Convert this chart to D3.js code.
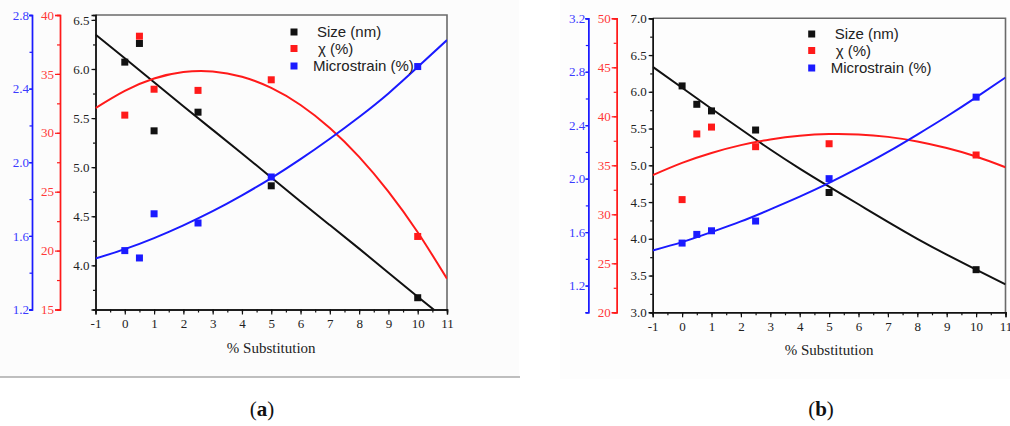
<!DOCTYPE html>
<html>
    <head>
        <meta charset="utf-8">
        <script type="text/javascript" src="https://d3js.org/d3.v7.min.js"></script>
        <style>
            body { margin: 0; background: #ffffff; }
            svg { display: block; }
        </style>
    </head>

    <body>
        <svg width="1010" height="426"></svg>

        <script type="text/javascript">
            // ---- data ----
            var substitution = [0, 0.5, 1, 2.5, 5, 10];
            var xTicks = [-1, 0, 1, 2, 3, 4, 5, 6, 7, 8, 9, 10, 11];
            var fitX = [-1, 0, 1, 2, 3, 4, 5, 6, 7, 8, 9, 10, 11];
            var legendLabels = ["Size (nm)", "\u03c7 (%)", "Microstrain (%)"];
            var panelLabels = ["a", "b"];

            // panel (a)
            var sizeA = [6.07, 6.26, 5.37, 5.56, 4.81, 3.67];
            var chiA = [31.5, 38.2, 33.7, 33.6, 34.5, 21.2];
            var strainA = [1.52, 1.48, 1.72, 1.67, 1.92, 2.52];
            var sizeFitA = [6.35, 6.11, 5.865, 5.62, 5.38, 5.14, 4.895, 4.65, 4.41, 4.17, 3.925, 3.68, 3.44];
            var chiFitA = [32.1, 33.56, 34.61, 35.16, 35.21, 34.76, 33.81, 32.36, 30.41, 27.96, 25.01, 21.56, 17.61];
            var strainFitA = [1.477, 1.528, 1.588, 1.657, 1.734, 1.82, 1.914, 2.017, 2.128, 2.246, 2.374, 2.517, 2.664];
            var sizeTicksA = [4.0, 4.5, 5.0, 5.5, 6.0, 6.5];
            var chiTicksA = [15, 20, 25, 30, 35, 40];
            var strainTicksA = [1.2, 1.6, 2.0, 2.4, 2.8];

            // panel (b)
            var sizeB = [6.08, 5.83, 5.74, 5.48, 4.63, 3.58];
            var chiB = [31.5, 38.2, 38.9, 36.9, 37.2, 36.05];
            var strainB = [1.518, 1.583, 1.61, 1.683, 2.0, 2.61];
            var sizeFitB = [6.34, 6.055, 5.77, 5.49, 5.215, 4.955, 4.71, 4.47, 4.23, 4.0, 3.785, 3.58, 3.38];
            var chiFitB = [34.0, 35.25, 36.26, 37.06, 37.64, 38.02, 38.19, 38.15, 37.9, 37.43, 36.76, 35.9, 34.8];
            var strainFitB = [1.463, 1.525, 1.6, 1.68, 1.77, 1.865, 1.968, 2.08, 2.2, 2.33, 2.465, 2.608, 2.757];
            var sizeTicksB = [3.0, 3.5, 4.0, 4.5, 5.0, 5.5, 6.0, 6.5, 7.0];
            var chiTicksB = [20, 25, 30, 35, 40, 45, 50];
            var strainTicksB = [1.2, 1.6, 2.0, 2.4, 2.8, 3.2];

            var BLACK = "#111111", RED = "#ff1a1a", BLUE = "#1a1aff";
            var serif = "Liberation Serif, Times New Roman, serif";
            var sans = "Liberation Sans, Arial, sans-serif";

            var svg = d3.select("svg");

            // faint page backgrounds of the two pasted images
            svg.append("rect").attr("x", 0).attr("y", 0).attr("width", 519).attr("height", 377).attr("fill", "#fcfcfc");
            svg.append("line").attr("x1", 0).attr("x2", 520).attr("y1", 377).attr("y2", 377)
                .attr("stroke", "#aaaaaa").attr("stroke-width", 1.3);
            svg.append("rect").attr("x", 560).attr("y", 0).attr("width", 450).attr("height", 379).attr("fill", "#fdfdfd");

            var panels = [
                {
                    x0: 95.5, x1: 447, y0: 15, y1: 309.5, redX: 60, blueX: 32,
                    sizeDom: [3.55, 6.55], chiDom: [15, 40], strainDom: [1.2, 2.8],
                    sizeTicks: sizeTicksA, chiTicks: chiTicksA, strainTicks: strainTicksA,
                    size: sizeA, chi: chiA, strain: strainA,
                    sizeFit: sizeFitA, chiFit: chiFitA, strainFit: strainFitA,
                    legendX: 294, legendY: 32, labelX: 262
                },
                {
                    x0: 652.7, x1: 1005.5, y0: 18.3, y1: 312.3, redX: 616.7, blueX: 588.3,
                    sizeDom: [3, 7], chiDom: [20, 50], strainDom: [1.0, 3.2],
                    sizeTicks: sizeTicksB, chiTicks: chiTicksB, strainTicks: strainTicksB,
                    size: sizeB, chi: chiB, strain: strainB,
                    sizeFit: sizeFitB, chiFit: chiFitB, strainFit: strainFitB,
                    legendX: 811.7, legendY: 34, labelX: 821
                }
            ];

            panels.forEach(function(p, i) { drawPanel(p, i); });

            function minorTicks(ticks, step, dom) {
                // tick marks half way between the labelled ones
                var out = [];
                var v = ticks[0] - step;
                while (v <= dom[1] + 1e-9) {
                    if (v >= dom[0] - 1e-9) out.push(v);
                    v += step;
                }
                return out;
            }

            function styleAxis(g, color, labelColor) {
                g.attr("font-family", serif).attr("font-size", 13);
                g.select(".domain").attr("stroke", color).attr("stroke-width", 1.4);
                g.selectAll(".tick line").attr("stroke", color).attr("stroke-width", 1.2);
                g.selectAll(".tick text").attr("fill", labelColor);
            }

            function drawPanel(p, idx) {
                var g = svg.append("g");

                var x = d3.scaleLinear().domain([-1, 11]).range([p.x0, p.x1]);
                var ySize = d3.scaleLinear().domain(p.sizeDom).range([p.y1, p.y0]);
                var yChi = d3.scaleLinear().domain(p.chiDom).range([p.y1, p.y0]);
                var yStrain = d3.scaleLinear().domain(p.strainDom).range([p.y1, p.y0]);

                // plot frame: top and right
                g.append("path")
                    .attr("d", "M" + p.x0 + "," + p.y0 + "H" + p.x1 + "V" + p.y1)
                    .attr("fill", "none").attr("stroke", "#6a6a6a").attr("stroke-width", 1.6);

                // minor ticks first, then major axes on top
                g.append("g").attr("transform", "translate(0," + p.y1 + ")")
                    .call(d3.axisBottom(x).tickValues(minorTicks(xTicks, 0.5, [-1, 11])).tickSize(3).tickFormat(""))
                    .call(function(a) { styleAxis(a, BLACK, BLACK); });
                g.append("g").attr("transform", "translate(0," + p.y1 + ")")
                    .call(d3.axisBottom(x).tickValues(xTicks).tickSize(5).tickPadding(4).tickFormat(function(d) { return String(d); }))
                    .call(function(a) { styleAxis(a, BLACK, "#222"); });

                g.append("g").attr("transform", "translate(" + p.x0 + ",0)")
                    .call(d3.axisLeft(ySize).tickValues(minorTicks(p.sizeTicks, 0.25, p.sizeDom)).tickSize(2.5).tickFormat(""))
                    .call(function(a) { styleAxis(a, BLACK, BLACK); });
                g.append("g").attr("transform", "translate(" + p.x0 + ",0)")
                    .call(d3.axisLeft(ySize).tickValues(p.sizeTicks).tickSize(4).tickPadding(2).tickFormat(d3.format(".1f")))
                    .call(function(a) { styleAxis(a, BLACK, "#222"); });

                g.append("g").attr("transform", "translate(" + p.redX + ",0)")
                    .call(d3.axisLeft(yChi).tickValues(minorTicks(p.chiTicks, 2.5, p.chiDom)).tickSize(3).tickFormat(""))
                    .call(function(a) { styleAxis(a, RED, RED); });
                g.append("g").attr("transform", "translate(" + p.redX + ",0)")
                    .call(d3.axisLeft(yChi).tickValues(p.chiTicks).tickSize(5).tickPadding(1).tickFormat(d3.format("d")))
                    .call(function(a) { styleAxis(a, RED, "#ff3838"); });

                g.append("g").attr("transform", "translate(" + p.blueX + ",0)")
                    .call(d3.axisLeft(yStrain).tickValues(minorTicks(p.strainTicks, 0.2, p.strainDom)).tickSize(2.5).tickFormat(""))
                    .call(function(a) { styleAxis(a, BLUE, BLUE); });
                g.append("g").attr("transform", "translate(" + p.blueX + ",0)")
                    .call(d3.axisLeft(yStrain).tickValues(p.strainTicks).tickSize(3).tickPadding(0).tickFormat(d3.format(".1f")))
                    .call(function(a) { styleAxis(a, BLUE, "#3a3aff"); });

                // x title
                g.append("text")
                    .attr("x", (p.x0 + p.x1) / 2).attr("y", p.y1 + 43)
                    .attr("text-anchor", "middle")
                    .attr("font-family", serif).attr("font-size", 15).attr("fill", "#222")
                    .text("% Substitution");

                // clip for fit curves
                var clipId = "clip" + idx;
                svg.append("clipPath").attr("id", clipId)
                    .append("rect").attr("x", p.x0).attr("y", p.y0)
                    .attr("width", p.x1 - p.x0).attr("height", p.y1 - p.y0);

                var series = [
                    { fit: p.sizeFit, pts: p.size, y: ySize, color: BLACK },
                    { fit: p.chiFit, pts: p.chi, y: yChi, color: RED },
                    { fit: p.strainFit, pts: p.strain, y: yStrain, color: BLUE }
                ];

                series.forEach(function(s) {
                    var line = d3.line()
                        .x(function(d, j) { return x(fitX[j]); })
                        .y(function(d) { return s.y(d); })
                        .curve(d3.curveNatural);
                    g.append("path")
                        .attr("clip-path", "url(#" + clipId + ")")
                        .attr("d", line(s.fit))
                        .attr("fill", "none")
                        .attr("stroke", s.color)
                        .attr("stroke-width", 2);
                });

                series.forEach(function(s) {
                    g.selectAll(null)
                        .data(s.pts)
                        .enter()
                        .append("rect")
                        .attr("x", function(d, j) { return x(substitution[j]) - 3.5; })
                        .attr("y", function(d) { return s.y(d) - 3.5; })
                        .attr("width", 7).attr("height", 7)
                        .attr("fill", s.color);
                });

                // legend
                var lg = g.append("g");
                var gap = [0, 16.5, 34];
                series.forEach(function(s, j) {
                    lg.append("rect")
                        .attr("x", p.legendX - 3.5).attr("y", p.legendY + gap[j] - 3.5)
                        .attr("width", 7).attr("height", 7).attr("fill", s.color);
                    lg.append("text")
                        .attr("x", p.legendX + (j == 2 ? 19 : (j == 1 ? 24 : 23)))
                        .attr("y", p.legendY + gap[j] + 5)
                        .attr("font-family", sans).attr("font-size", 15).attr("fill", "#222")
                        .text(legendLabels[j]);
                });

                // panel label (a) / (b)
                var t = svg.append("text")
                    .attr("x", p.labelX).attr("y", 416)
                    .attr("text-anchor", "middle")
                    .attr("font-family", serif).attr("font-size", 21).attr("fill", "#111");
                t.append("tspan").text("(");
                t.append("tspan").attr("font-weight", "bold").text(panelLabels[idx]);
                t.append("tspan").text(")");
            }
        </script>
    </body>
</html>
